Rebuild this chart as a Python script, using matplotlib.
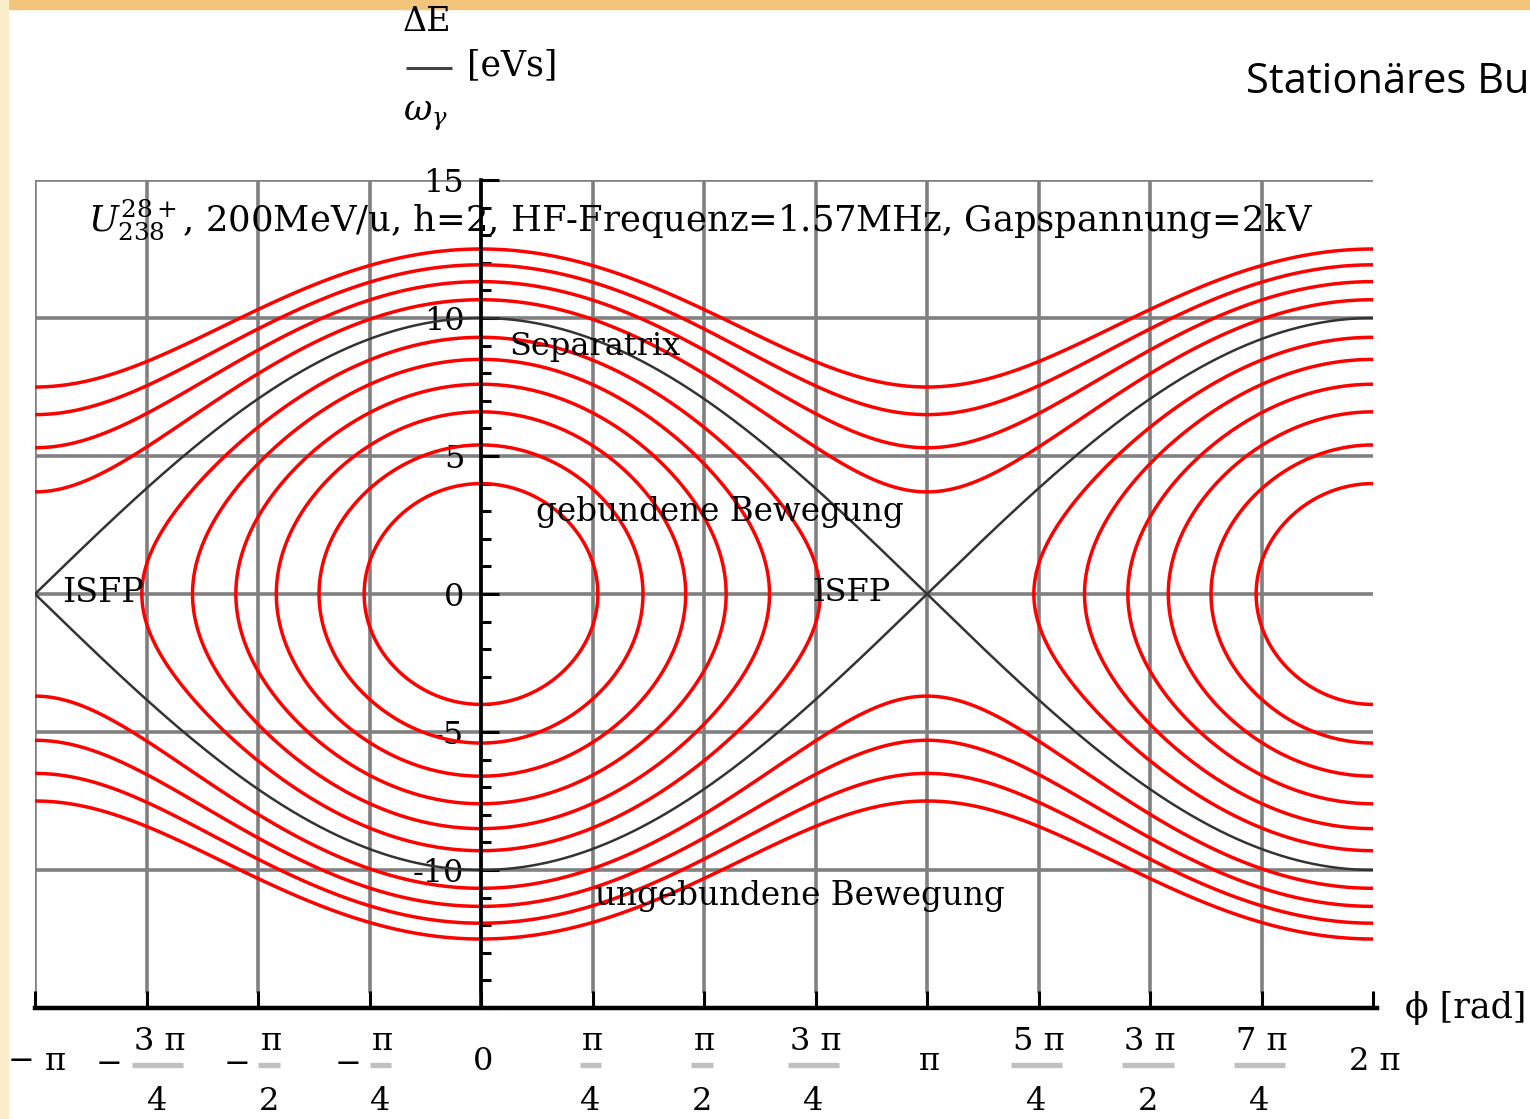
import numpy as np
import matplotlib
matplotlib.use("Agg")
import matplotlib.pyplot as plt
import matplotlib.transforms as mtransforms
from matplotlib.patches import Rectangle

# values
bucket_height = 10.0                              # separatrix height at phi = 0 [eVs]
inner_amps = [4.0, 5.4, 6.6, 7.6, 8.5, 9.3]       # bound orbits, dE at phi = 0
outer_amps = [3.7, 5.3, 6.5, 7.5]                 # unbound orbits, dE at phi = pi

x_quarters = list(range(-4, 9))                   # ticks at k*pi/4
x_labels = ["-π", "-3π/4", "-π/2", "-π/4", "0", "π/4", "π/2", "3π/4",
            "π", "5π/4", "3π/2", "7π/4", "2π"]
y_ticks = [-15, -10, -5, 0, 5, 10, 15]
y_labels = ["", "-10", "-5", "0", "5", "10", "15"]

W, H = 1530, 1119
plt.rcParams['font.family'] = ['DejaVu Serif']
plt.rcParams['mathtext.fontset'] = 'dejavuserif'

fig = plt.figure(figsize=(W / 100, H / 100), dpi=100)
fig.patch.set_facecolor("white")
# slide background edges
fig.add_artist(Rectangle((0, 1 - 9 / H), 1, 9 / H, transform=fig.transFigure,
                         color="#f3c47c", zorder=0))
fig.add_artist(Rectangle((0, 0), 8 / W, 1, transform=fig.transFigure,
                         color="#fbecca", zorder=0))

ax = fig.add_axes([35 / W, 111 / H, 1338 / W, 828 / H])
ax.set_xlim(-np.pi, 2 * np.pi)
ax.set_ylim(-15, 15)
ax.set_facecolor("none")

# grid
xt = [k * np.pi / 4 for k in x_quarters]
for x in xt[:-1]:
    ax.plot([x, x], [-14.45, 15], color="#808080", lw=2.6, zorder=1,
            solid_capstyle="butt")
for y in y_ticks[1:]:
    ax.axhline(y, color="#808080", lw=2.6, zorder=1)

# phase space contours
phi = np.linspace(-np.pi, 2 * np.pi, 1800)
de = np.linspace(-15, 15, 1400)
P, Q = np.meshgrid(phi, de)
Ham = Q ** 2 + bucket_height ** 2 * np.sin(P / 2) ** 2
levels = sorted([a ** 2 for a in inner_amps] +
                [bucket_height ** 2 + a ** 2 for a in outer_amps])
ax.contour(P, Q, Ham, levels=levels, colors="#ff0000", linewidths=2.5, zorder=2)

sep = bucket_height * np.cos(phi / 2)
ax.plot(phi, sep, color="#333333", lw=1.8, zorder=3)
ax.plot(phi, -sep, color="#333333", lw=1.8, zorder=3)

# axes in Mathematica style
for s in ["top", "right"]:
    ax.spines[s].set_visible(False)
ax.spines["left"].set_position(("data", 0))
ax.spines["left"].set_linewidth(2.6)
ax.spines["bottom"].set_linewidth(3.2)
ax.spines["left"].set_zorder(5)
ax.spines["bottom"].set_zorder(5)
ax.spines["bottom"].set_bounds(-np.pi, 2 * np.pi + 0.03)

ax.set_xticks(xt)
ax.set_xticklabels([])
ax.tick_params(axis="x", direction="in", length=12, width=2.2, color="black")
ax.set_yticks(y_ticks)
ax.set_yticklabels(y_labels)
ax.set_yticks(np.arange(-15, 16, 1), minor=True)
ax.tick_params(axis="y", which="major", direction="in", length=13, width=2.2,
               pad=12, labelsize=23)
ax.tick_params(axis="y", which="minor", direction="in", length=7, width=2.2)

# x tick labels as stacked fractions (whole label incl. minus centred on tick)
bl = mtransforms.blended_transform_factory(ax.transData, ax.transAxes)
for x, lab in zip(xt, x_labels):
    neg = lab.startswith("-")
    body = lab[1:] if neg else lab
    if "/" in body:
        num, den = body.split("/")
        wide = len(num) > 1
        if wide:
            num = num.replace("π", " π")
        sh = 11 if neg else -2
        ax.annotate(num, (x, 0), xycoords=bl, xytext=(sh + 2, -34),
                    textcoords="offset pixels", ha="center", va="center",
                    fontsize=23, annotation_clip=False)
        ax.annotate(den, (x, 0), xycoords=bl, xytext=(sh, -94),
                    textcoords="offset pixels", ha="center", va="center",
                    fontsize=23, annotation_clip=False)
        half = 0.18 if wide else 0.075
        xc = x + sh / 142.0
        ax.plot([xc - half, xc + half], [-0.0685, -0.0685],
                transform=bl, color="#c0c0c0", lw=3.8, clip_on=False,
                solid_capstyle="butt")
        if neg:
            dx = -37 if wide else -21
            ax.annotate("−", (x, 0), xycoords=bl, xytext=(dx, -56),
                        textcoords="offset pixels", ha="center", va="center",
                        fontsize=23, annotation_clip=False)
    else:
        txt = body.replace("2π", "2 π")
        if neg:
            txt = "− " + txt
        ax.annotate(txt, (x, 0), xycoords=bl, xytext=(2, -54),
                    textcoords="offset pixels", ha="center", va="center",
                    fontsize=23, annotation_clip=False)

ax.annotate("ϕ [rad]", (2 * np.pi, 0), xycoords=bl, xytext=(32, 0),
            textcoords="offset pixels", ha="left", va="center",
            fontsize=25, annotation_clip=False)

# y label as a fraction above the axis
ax.annotate("ΔE", (0, 15), xytext=(-54, 158), textcoords="offset pixels",
            ha="center", va="center", fontsize=24, annotation_clip=False)
ax.plot([-0.53, -0.205], [1.135, 1.135], transform=bl, color="#444444",
        lw=2.2, clip_on=False, solid_capstyle="butt")
ax.annotate("[eVs]", (0, 15), xytext=(-14, 115), textcoords="offset pixels",
            ha="left", va="center", fontsize=25, annotation_clip=False)
ax.annotate(r"$\omega_\gamma$", (0, 15), xytext=(-56, 64),
            textcoords="offset pixels", ha="center", va="center",
            fontsize=25, annotation_clip=False)

# annotations inside the plot
ax.text(-2.77, 13.55,
        r"$U^{28+}_{238}$, 200MeV/u, h=2, HF-Frequenz=1.57MHz, Gapspannung=2kV",
        fontsize=25.5, va="center", ha="left", zorder=6)
ax.text(0.20, 8.95, "Separatrix", fontsize=23, va="center", zorder=6)
ax.text(0.39, 2.97, "gebundene Bewegung", fontsize=23.5, va="center", zorder=6)
ax.text(-2.95, 0.05, "ISFP", fontsize=24, va="center", zorder=6)
ax.text(2.33, 0.05, "ISFP", fontsize=23, va="center", zorder=6)
ax.text(0.80, -10.95, "ungebundene Bewegung", fontsize=23.5, va="center", zorder=6)

fig.text(1529 / W, 1 - 82 / H, "Stationäres Bu", fontsize=30,
         family="Open Sans", va="center", ha="right")

fig.savefig("out.png", dpi=100)
